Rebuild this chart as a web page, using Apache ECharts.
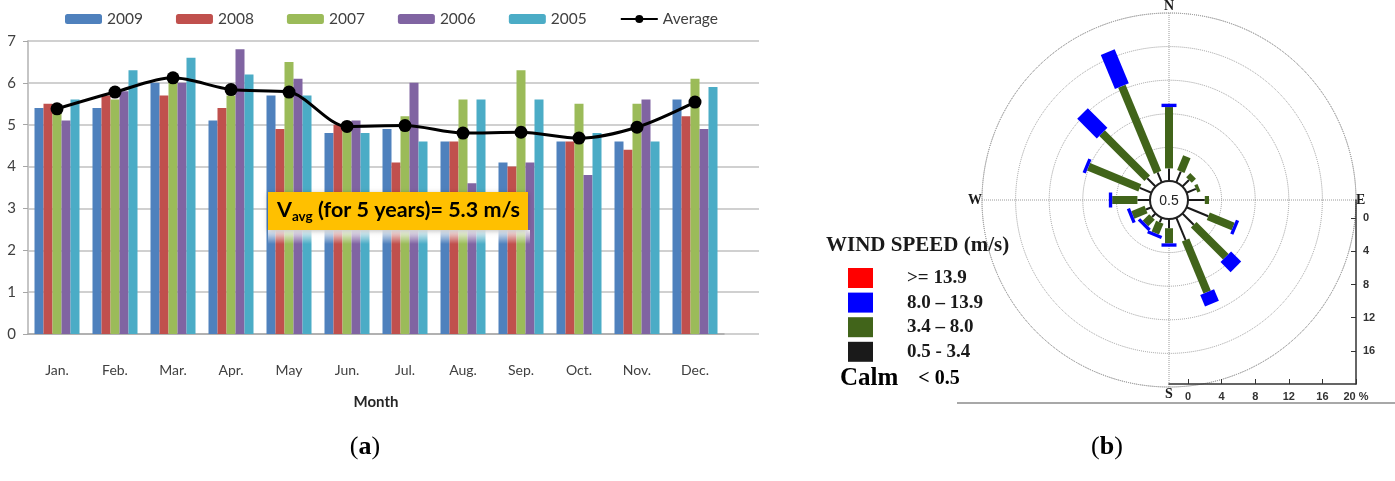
<!DOCTYPE html>
<html>
<head>
<meta charset="utf-8">
<script src="https://cdn.jsdelivr.net/npm/echarts@6/dist/echarts.min.js"></script>
<style>
  html, body { margin: 0; padding: 0; background: #fff; }
  #main { width: 1395px; height: 481px; }
</style>
</head>
<body>
<div id="main"></div>
<script>
(function () {
    "use strict";

    /*---- (a) monthly wind speed ----*/
    var months = ['Jan.', 'Feb.', 'Mar.', 'Apr.', 'May', 'Jun.', 'Jul.', 'Aug.', 'Sep.', 'Oct.', 'Nov.', 'Dec.'];
    var years = ['2009', '2008', '2007', '2006', '2005'];
    var v2009 = [5.4, 5.4, 6.0, 5.1, 5.7, 4.8, 4.9, 4.6, 4.1, 4.6, 4.6, 5.6];
    var v2008 = [5.5, 5.7, 5.7, 5.4, 4.9, 5.0, 4.1, 4.6, 4.0, 4.6, 4.4, 5.2];
    var v2007 = [5.3, 5.6, 6.2, 5.7, 6.5, 5.0, 5.2, 5.6, 6.3, 5.5, 5.5, 6.1];
    var v2006 = [5.1, 5.8, 6.0, 6.8, 6.1, 5.1, 6.0, 3.6, 4.1, 3.8, 5.6, 4.9];
    var v2005 = [5.6, 6.3, 6.6, 6.2, 5.7, 4.8, 4.6, 5.6, 5.6, 4.8, 4.6, 5.9];
    var average = [5.38, 5.78, 6.12, 5.84, 5.78, 4.96, 4.98, 4.80, 4.82, 4.68, 4.94, 5.54];
    var yearValues = [v2009, v2008, v2007, v2006, v2005];
    var yearColors = ['#4f81bd', '#c0504d', '#9bbb59', '#8064a2', '#4bacc6'];

    /*---- (b) wind rose, % of time per direction and speed class ----*/
    var dirNames = ['N', 'NNE', 'NE', 'ENE', 'E', 'ESE', 'SE', 'SSE', 'S', 'SSW', 'SW', 'WSW', 'W', 'WNW', 'NW', 'NNW'];
    var dirAngles = [0, 22.5, 45, 67.5, 90, 112.5, 135, 157.5, 180, 202.5, 225, 247.5, 270, 292.5, 315, 337.5];
    var class05to34 = [1.5, 1.4, 1.1, 1.2, 2.0, 2.8, 1.9, 2.9, 1.1, 0.6, 0.6, 0.7, 1.5, 1.5, 1.4, 1.3];
    var class34to80 = [7.3, 1.9, 0.7, 0.4, 0.5, 3.2, 5.4, 6.7, 1.8, 1.4, 1.1, 1.7, 3.0, 6.6, 7.6, 11.1];
    var class80to139 = [0.4, 0, 0, 0, 0, 0.4, 1.7, 1.5, 0.4, 0.4, 0.4, 0.4, 0.4, 0.4, 3.3, 4.4];
    var class139up = [0, 0, 0, 0, 0, 0, 0, 0, 0, 0, 0, 0, 0, 0, 0, 0];
    var calmValue = 0.5;
    var speedClasses = ['>= 13.9', '8.0 \u2013 13.9', '3.4 \u2013 8.0', '0.5 - 3.4'];
    var scaleTicks = [0, 4, 8, 12, 16, 20];

    var compass = { 0: 'N', 90: 'E', 180: 'S', 270: 'W' };
    var serif = 'Liberation Serif';

    // stack the speed classes outward from the calm circle
    var end1 = [], end2 = [], end3 = [], end4 = [];
    dirAngles.forEach(function (a, i) {
        end1[i] = class05to34[i];
        end2[i] = end1[i] + class34to80[i];
        end3[i] = end2[i] + class80to139[i];
        end4[i] = end3[i] + class139up[i];
    });

    function roseSeries(name, color, width, starts, ends) {
        var data = [];
        dirAngles.forEach(function (a, i) {
            if (ends[i] > starts[i]) data.push([a, starts[i], ends[i]]);
        });
        return {
            type: 'custom',
            name: name,
            coordinateSystem: 'polar',
            polarIndex: 0,
            itemStyle: { color: color },
            encode: { angle: 0, radius: [1, 2] },
            z: 4,
            silent: true,
            data: data,
            renderItem: function (params, api) {
                var p0 = api.coord([api.value(1), api.value(0)]);
                var p1 = api.coord([api.value(2), api.value(0)]);
                return {
                    type: 'line',
                    shape: { x1: p0[0], y1: p0[1], x2: p1[0], y2: p1[1] },
                    style: { stroke: color, lineWidth: width, lineCap: 'butt' }
                };
            }
        };
    }

    var zeros = dirAngles.map(function () { return 0; });

    var series = [];
    years.forEach(function (y, i) {
        series.push({
            type: 'bar',
            name: y,
            xAxisIndex: 0,
            yAxisIndex: 0,
            data: yearValues[i],
            barWidth: 9,
            barGap: '0%',
            itemStyle: { color: yearColors[i] }
        });
    });
    series.push({
        type: 'line',
        name: 'Average',
        xAxisIndex: 0,
        yAxisIndex: 0,
        data: average,
        smooth: 0.3,
        symbol: 'circle',
        symbolSize: 13,
        lineStyle: { color: '#000', width: 3 },
        itemStyle: { color: '#000' },
        z: 5
    });
    series.push(roseSeries(speedClasses[3], '#1a1a1a', 2, zeros, end1));
    series.push(roseSeries(speedClasses[2], '#41641a', 8, end1, end2));
    series.push(roseSeries(speedClasses[1], '#0000ff', 15, end2, end3));
    series.push(roseSeries(speedClasses[0], '#ff0000', 17, end3, end4));
    series.push({
        type: 'custom',
        coordinateSystem: 'polar',
        polarIndex: 0,
        silent: true,
        z: 6,
        data: [[calmValue]],
        renderItem: function (params, api) {
            var cs = params.coordSys;
            return {
                type: 'group',
                children: [{
                    type: 'circle',
                    shape: { cx: cs.cx, cy: cs.cy, r: cs.r0 },
                    style: { fill: '#fff', stroke: '#222', lineWidth: 2 }
                }, {
                    type: 'text',
                    x: cs.cx,
                    y: cs.cy + 1,
                    style: {
                        text: String(api.value(0)),
                        align: 'center',
                        verticalAlign: 'middle',
                        font: '14px "Liberation Sans"',
                        fill: '#222'
                    }
                }]
            };
        }
    });

    var chart = echarts.init(document.getElementById('main'));
    var option = {
        animation: false,
        legend: [{
            data: years.concat(['Average']),
            left: 65,
            top: 11,
            padding: 0,
            itemWidth: 37,
            itemHeight: 10,
            itemGap: 33,
            selectedMode: false,
            textStyle: { fontFamily: 'Lato', fontSize: 15.5, color: '#404040' }
        }, {
            data: speedClasses,
            orient: 'vertical',
            left: 848,
            top: 268,
            padding: 0,
            icon: 'rect',
            itemWidth: 25,
            itemHeight: 20,
            itemGap: 4.6,
            selectedMode: false,
            textStyle: {
                fontFamily: serif, fontWeight: 'bold', fontSize: 19, color: '#1a1a1a',
                padding: [0, 0, 0, 29]
            }
        }],
        grid: [{
            left: 28, top: 41, width: 696, height: 293
        }, {
            left: 28, top: 41, width: 731, height: 293
        }, {
            left: 1169, top: 200, width: 187, height: 184
        }],
        xAxis: [{
            gridIndex: 0,
            type: 'category',
            data: months,
            axisLine: { lineStyle: { color: '#a6a6a6', width: 1.5 } },
            axisTick: { show: false },
            axisLabel: { margin: 29, fontFamily: 'Lato', fontSize: 14, color: '#404040' },
            name: 'Month',
            nameLocation: 'middle',
            nameGap: 61,
            nameTextStyle: { fontFamily: 'Lato', fontWeight: 'bold', fontSize: 15, color: '#262626' }
        }, {
            gridIndex: 1,
            type: 'value',
            show: false
        }, {
            gridIndex: 2,
            type: 'value',
            min: -2.26,
            max: 20,
            axisLine: { onZero: false, lineStyle: { color: '#333', width: 1.5 } },
            axisTick: { customValues: scaleTicks, inside: true, length: 5, lineStyle: { color: '#333' } },
            axisLabel: {
                customValues: scaleTicks,
                margin: 7,
                fontFamily: 'Liberation Sans', fontWeight: 'bold', fontSize: 11, color: '#333',
                formatter: function (v) { return v === 20 ? '20 %' : String(v); }
            },
            splitLine: { show: false }
        }],
        yAxis: [{
            gridIndex: 0,
            type: 'value',
            min: 0,
            max: 7,
            interval: 1,
            axisLine: { show: true, lineStyle: { color: '#a6a6a6', width: 1.5 } },
            axisTick: { show: true, length: 5, lineStyle: { color: '#a6a6a6' } },
            axisLabel: { margin: 12, fontFamily: 'Lato', fontSize: 15, color: '#404040' },
            splitLine: { show: false }
        }, {
            gridIndex: 1,
            type: 'value',
            position: 'right',
            min: 0,
            max: 7,
            interval: 1,
            axisLine: { show: true, lineStyle: { color: '#c8c8c8', width: 1.5 } },
            axisTick: { show: false },
            axisLabel: { show: false },
            splitLine: { lineStyle: { color: '#c0c0c0', width: 1.5 } }
        }, {
            gridIndex: 2,
            type: 'value',
            position: 'right',
            inverse: true,
            min: -2.2,
            max: 20,
            axisLine: { show: true, onZero: false, lineStyle: { color: '#333', width: 1.5 } },
            axisTick: { show: true, customValues: scaleTicks.slice(0, 5), length: 5, inside: true, lineStyle: { color: '#333' } },
            axisLabel: {
                customValues: scaleTicks.slice(0, 5),
                margin: 7,
                fontFamily: 'Liberation Sans', fontWeight: 'bold', fontSize: 11, color: '#333'
            },
            splitLine: { show: false }
        }],
        polar: {
            center: [1169, 200],
            radius: [19, 187]
        },
        angleAxis: {
            type: 'value',
            min: 0,
            max: 360,
            interval: 90,
            startAngle: 90,
            clockwise: true,
            axisLine: { lineStyle: { color: '#9a9a9a', type: 'dotted', width: 1 } },
            axisTick: { show: false },
            axisLabel: {
                margin: 0,
                fontFamily: serif, fontWeight: 'bold', fontSize: 14, color: '#1a1a1a',
                formatter: function (v) { return compass[v] || ''; }
            },
            splitLine: { lineStyle: { color: '#9a9a9a', type: 'dotted', width: 1 } }
        },
        radiusAxis: {
            min: 0,
            max: 20,
            interval: 4,
            axisLine: { show: false },
            axisTick: { show: false },
            axisLabel: { show: false },
            splitLine: { lineStyle: { color: '#9a9a9a', type: 'dotted', width: 1 } }
        },
        graphic: [{
            type: 'rect',
            x: 268, y: 230,
            shape: { width: 262, height: 14 },
            style: {
                fill: new echarts.graphic.LinearGradient(0, 0, 0, 1, [
                    { offset: 0, color: 'rgba(255,255,255,0.95)' },
                    { offset: 1, color: 'rgba(255,255,255,0)' }
                ])
            },
            z: 10
        }, {
            type: 'rect',
            x: 268, y: 192,
            shape: { width: 260, height: 38 },
            style: { fill: '#ffc000', shadowBlur: 5, shadowColor: 'rgba(0,0,0,0.25)', shadowOffsetY: 1 },
            z: 11
        }, {
            type: 'text',
            x: 277, y: 196,
            z: 12,
            style: {
                text: '{v|V}{s|avg}{t| (for 5 years)= 5.3 m/s}',
                rich: {
                    v: { fontFamily: 'Lato', fontWeight: 'bold', fontSize: 21.5, color: '#111', lineHeight: 28 },
                    s: { fontFamily: 'Lato', fontWeight: 'bold', fontSize: 13.5, color: '#111', lineHeight: 13, padding: [14, 0, 0, 0] },
                    t: { fontFamily: 'Lato', fontWeight: 'bold', fontSize: 21.5, color: '#111', lineHeight: 28 }
                }
            }
        }, {
            type: 'text',
            x: 826, y: 235,
            style: { text: 'WIND SPEED (m/s)', font: 'bold 21px "Liberation Serif"', fill: '#1a1a1a' }
        }, {
            type: 'text',
            x: 840, y: 366,
            style: {
                text: '{c|Calm}{l|    < 0.5}',
                rich: {
                    c: { fontFamily: serif, fontWeight: 'bold', fontSize: 25, color: '#1a1a1a' },
                    l: { fontFamily: serif, fontWeight: 'bold', fontSize: 20, color: '#1a1a1a' }
                }
            }
        }, {
            type: 'line',
            shape: { x1: 957, y1: 403, x2: 1395, y2: 403 },
            style: { stroke: '#a8a8a8', lineWidth: 2 }
        }, {
            type: 'text',
            x: 365, y: 447,
            style: {
                text: '{p|(}{b|a}{p|)}',
                align: 'center', verticalAlign: 'middle',
                rich: {
                    p: { fontFamily: serif, fontSize: 26, color: '#111' },
                    b: { fontFamily: serif, fontWeight: 'bold', fontSize: 26, color: '#111' }
                }
            }
        }, {
            type: 'text',
            x: 1107, y: 447,
            style: {
                text: '{p|(}{b|b}{p|)}',
                align: 'center', verticalAlign: 'middle',
                rich: {
                    p: { fontFamily: serif, fontSize: 26, color: '#111' },
                    b: { fontFamily: serif, fontWeight: 'bold', fontSize: 26, color: '#111' }
                }
            }
        }],
        series: series
    };
    chart.setOption(option);
})();
</script>
</body>
</html>
